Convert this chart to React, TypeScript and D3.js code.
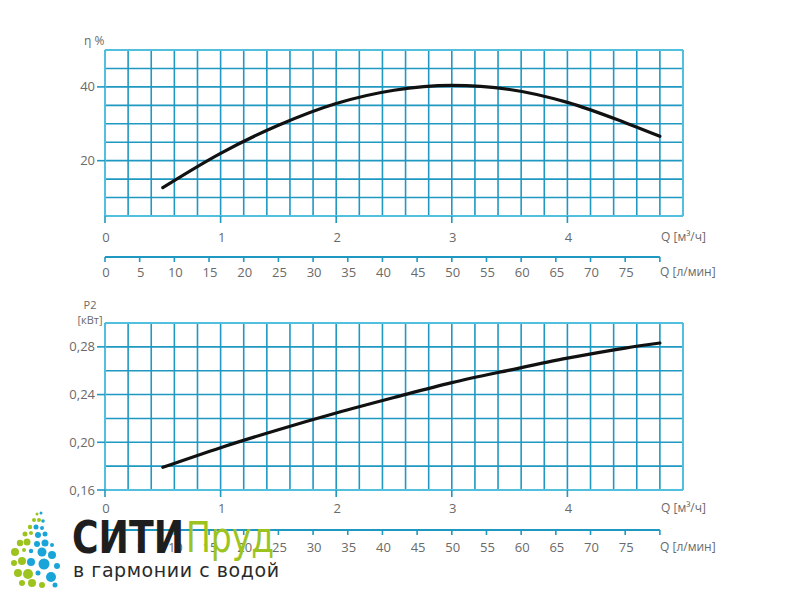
import React from "react";
import * as d3 from "d3";

// ---- data ----
const qEta: number[] = [0.5, 1.0, 1.5, 2.0, 2.5, 3.0, 3.5, 4.0, 4.5, 4.8];
const etaVals: number[] = [12.7, 22.0, 29.6, 35.5, 39.1, 40.4, 39.3, 35.8, 30.3, 26.6];
const qP2: number[] = [0.5, 1.0, 1.5, 2.0, 2.5, 3.0, 3.5, 4.0, 4.5, 4.8];
const p2Vals: number[] = [0.179, 0.1955, 0.2105, 0.2245, 0.2375, 0.25, 0.2605, 0.2705, 0.279, 0.2832];
const qTicks: number[] = [0, 1, 2, 3, 4];
const lpmTicks: number[] = [0, 5, 10, 15, 20, 25, 30, 35, 40, 45, 50, 55, 60, 65, 70, 75];
const etaTicks: number[] = [40, 20];
const p2Ticks: number[] = [0.28, 0.24, 0.2, 0.16];

const GRID = "#1f98c2";
const BORDER = "#52bfdf";
const TEXT = "#6a6a6a";
const FONT = "'Open Sans', 'DejaVu Sans', sans-serif";

const logoDots: [number, number, number, string][] = [
  [37, 514, 1.5, "g"], [41, 513, 1.5, "b"],
  [34, 520, 2, "g"], [39, 520, 2, "g"], [43, 521, 1.8, "b"],
  [30, 527, 2.2, "g"], [36, 527, 2.5, "b"], [42, 528, 2, "b"],
  [25, 534, 2.5, "g"], [31, 533, 2, "g"], [38, 535, 3, "b"], [45, 534, 2.5, "b"],
  [20, 543, 3.2, "g"], [27, 542, 3.5, "g"], [37, 544, 3, "b"], [45, 543, 3.5, "b"], [52, 545, 2, "b"],
  [15, 552, 4, "g"], [24, 550, 2, "g"], [31, 551, 2.2, "b"], [42, 552, 4.5, "b"], [52, 555, 4, "b"],
  [14, 563, 3, "g"], [22, 561, 4, "g"], [31, 562, 4, "b"], [44, 564, 5.5, "b"], [57, 566, 3, "b"],
  [18, 573, 4, "g"], [28, 574, 5, "g"], [38, 573, 2.5, "b"], [51, 577, 5, "b"],
  [22, 583, 3, "g"], [32, 583, 4, "g"], [42, 585, 3, "g"], [55, 585, 2.5, "b"],
];

const x = d3.scaleLinear().domain([0, 5]).range([105, 683]);
const lpmToQ = (l: number) => (l * 60) / 1000;

type PanelProps = {
  yScale: d3.ScaleLinear<number, number>;
  yGrid: number[];
  yTicks: number[];
  yFmt: (v: number) => string;
  qs: number[];
  vals: number[];
  qAxisY: number;
  lpmLineY: number;
  lpmLabelOffset: number;
};

function Panel({ yScale, yGrid, yTicks, yFmt, qs, vals, qAxisY, lpmLineY, lpmLabelOffset }: PanelProps) {
  const [y0, y1] = yScale.range();
  const top = Math.min(y0, y1);
  const bottom = Math.max(y0, y1);
  const xGrid = d3.range(0, 5.0001, 0.2);
  const line = d3
    .line<number>()
    .x((_, i) => x(qs[i]))
    .y((d) => yScale(d))
    .curve(d3.curveMonotoneX);
  return (
    <g>
      {xGrid.map((q, i) => (
        <line key={"vx" + i} x1={x(q)} x2={x(q)} y1={top} y2={bottom} stroke={GRID} strokeWidth={1.6} />
      ))}
      {yGrid.map((v, i) => (
        <line key={"hy" + i} x1={x(0)} x2={x(5)} y1={yScale(v)} y2={yScale(v)} stroke={GRID} strokeWidth={1.6} />
      ))}
      <rect x={x(0)} y={top} width={x(5) - x(0)} height={bottom - top} fill="none" stroke={BORDER} strokeWidth={2} rx={2} />
      {qTicks.map((q) => (
        <line key={"qt" + q} x1={x(q)} x2={x(q)} y1={bottom} y2={bottom + 7} stroke={GRID} strokeWidth={1.6} />
      ))}
      {yTicks.map((v) => (
        <g key={"yt" + v}>
          <line x1={x(0) - 8} x2={x(0)} y1={yScale(v)} y2={yScale(v)} stroke={GRID} strokeWidth={1.6} />
          <text x={x(0) - 10} y={yScale(v)} dy="0.35em" textAnchor="end" fill={TEXT} fontSize={13} fontFamily={FONT}>
            {yFmt(v)}
          </text>
        </g>
      ))}
      <path d={line(vals) || ""} fill="none" stroke="#111" strokeWidth={3.2} strokeLinecap="round" />
      {qTicks.map((q) => (
        <text key={"ql" + q} x={x(q) + 1} y={qAxisY} dy="0.35em" textAnchor="middle" fill={TEXT} fontSize={13} fontFamily={FONT}>
          {q}
        </text>
      ))}
      <text x={661} y={qAxisY} dy="0.35em" fill={TEXT} fontSize={12} fontFamily={FONT}>
        Q [м³/ч]
      </text>
      <line x1={x(0)} x2={x(lpmToQ(80))} y1={lpmLineY} y2={lpmLineY} stroke={GRID} strokeWidth={2} />
      {[...lpmTicks, 80].map((l) => (
        <line key={"lt" + l} x1={x(lpmToQ(l))} x2={x(lpmToQ(l))} y1={lpmLineY} y2={lpmLineY + 5} stroke={GRID} strokeWidth={1.6} />
      ))}
      {lpmTicks.map((l) => (
        <text key={"ll" + l} x={x(lpmToQ(l)) + 1} y={lpmLineY + lpmLabelOffset} dy="0.35em" textAnchor="middle" fill={TEXT} fontSize={13} fontFamily={FONT}>
          {l}
        </text>
      ))}
      <text x={660} y={lpmLineY + lpmLabelOffset} dy="0.35em" fill={TEXT} fontSize={12} fontFamily={FONT}>
        Q [л/мин]
      </text>
    </g>
  );
}

export default function App() {
  const yEta = d3.scaleLinear().domain([5, 50]).range([216, 50]);
  const yP = d3.scaleLinear().domain([0.16, 0.3]).range([490, 323]);
  const etaGrid = d3.range(5, 50.001, 5);
  const pGrid = d3.range(0.16, 0.3001, 0.02);
  const fmtP = (v: number) => v.toFixed(2).replace(".", ",");
  return (
    <svg width={800} height={600} style={{ position: "absolute", left: 0, top: 0, background: "#fff" }}>
      <rect width={800} height={600} fill="#fff" />
      <text x={84} y={45} fill={TEXT} fontSize={12} fontFamily={FONT}>
        η %
      </text>
      <Panel yScale={yEta} yGrid={etaGrid} yTicks={etaTicks} yFmt={(v) => String(v)} qs={qEta} vals={etaVals} qAxisY={237} lpmLineY={257} lpmLabelOffset={15} />
      <text x={90} y={309} textAnchor="middle" fill={TEXT} fontSize={11} fontFamily={FONT}>
        P2
      </text>
      <text x={90} y={324} textAnchor="middle" fill={TEXT} fontSize={11} fontFamily={FONT}>
        [кВт]
      </text>
      <Panel yScale={yP} yGrid={pGrid} yTicks={p2Ticks} yFmt={fmtP} qs={qP2} vals={p2Vals} qAxisY={508} lpmLineY={530} lpmLabelOffset={17} />
      {/* logo */}
      <g>
        {logoDots.map(([cx, cy, r, c], i) => (
          <circle key={"d" + i} cx={cx} cy={cy} r={r} fill={c === "g" ? "#9dc41e" : "#1aa5d8"} />
        ))}
        <text x={72} y={553} fontSize={44} fontWeight={900} fill="#1e1e1e" fontFamily="'DejaVu Sans', sans-serif" textLength={112} lengthAdjust="spacingAndGlyphs">
          СИТИ
        </text>
        <text x={186} y={552} fontSize={42} fontWeight={400} fill="#9dc41e" fontFamily="'DejaVu Sans', sans-serif" textLength={88} lengthAdjust="spacingAndGlyphs">
          Пруд
        </text>
        <text x={73} y={577} fontSize={19} fill="#2a2a2a" fontFamily="'DejaVu Sans', sans-serif" textLength={206} lengthAdjust="spacing">
          в гармонии с водой
        </text>
      </g>
    </svg>
  );
}
